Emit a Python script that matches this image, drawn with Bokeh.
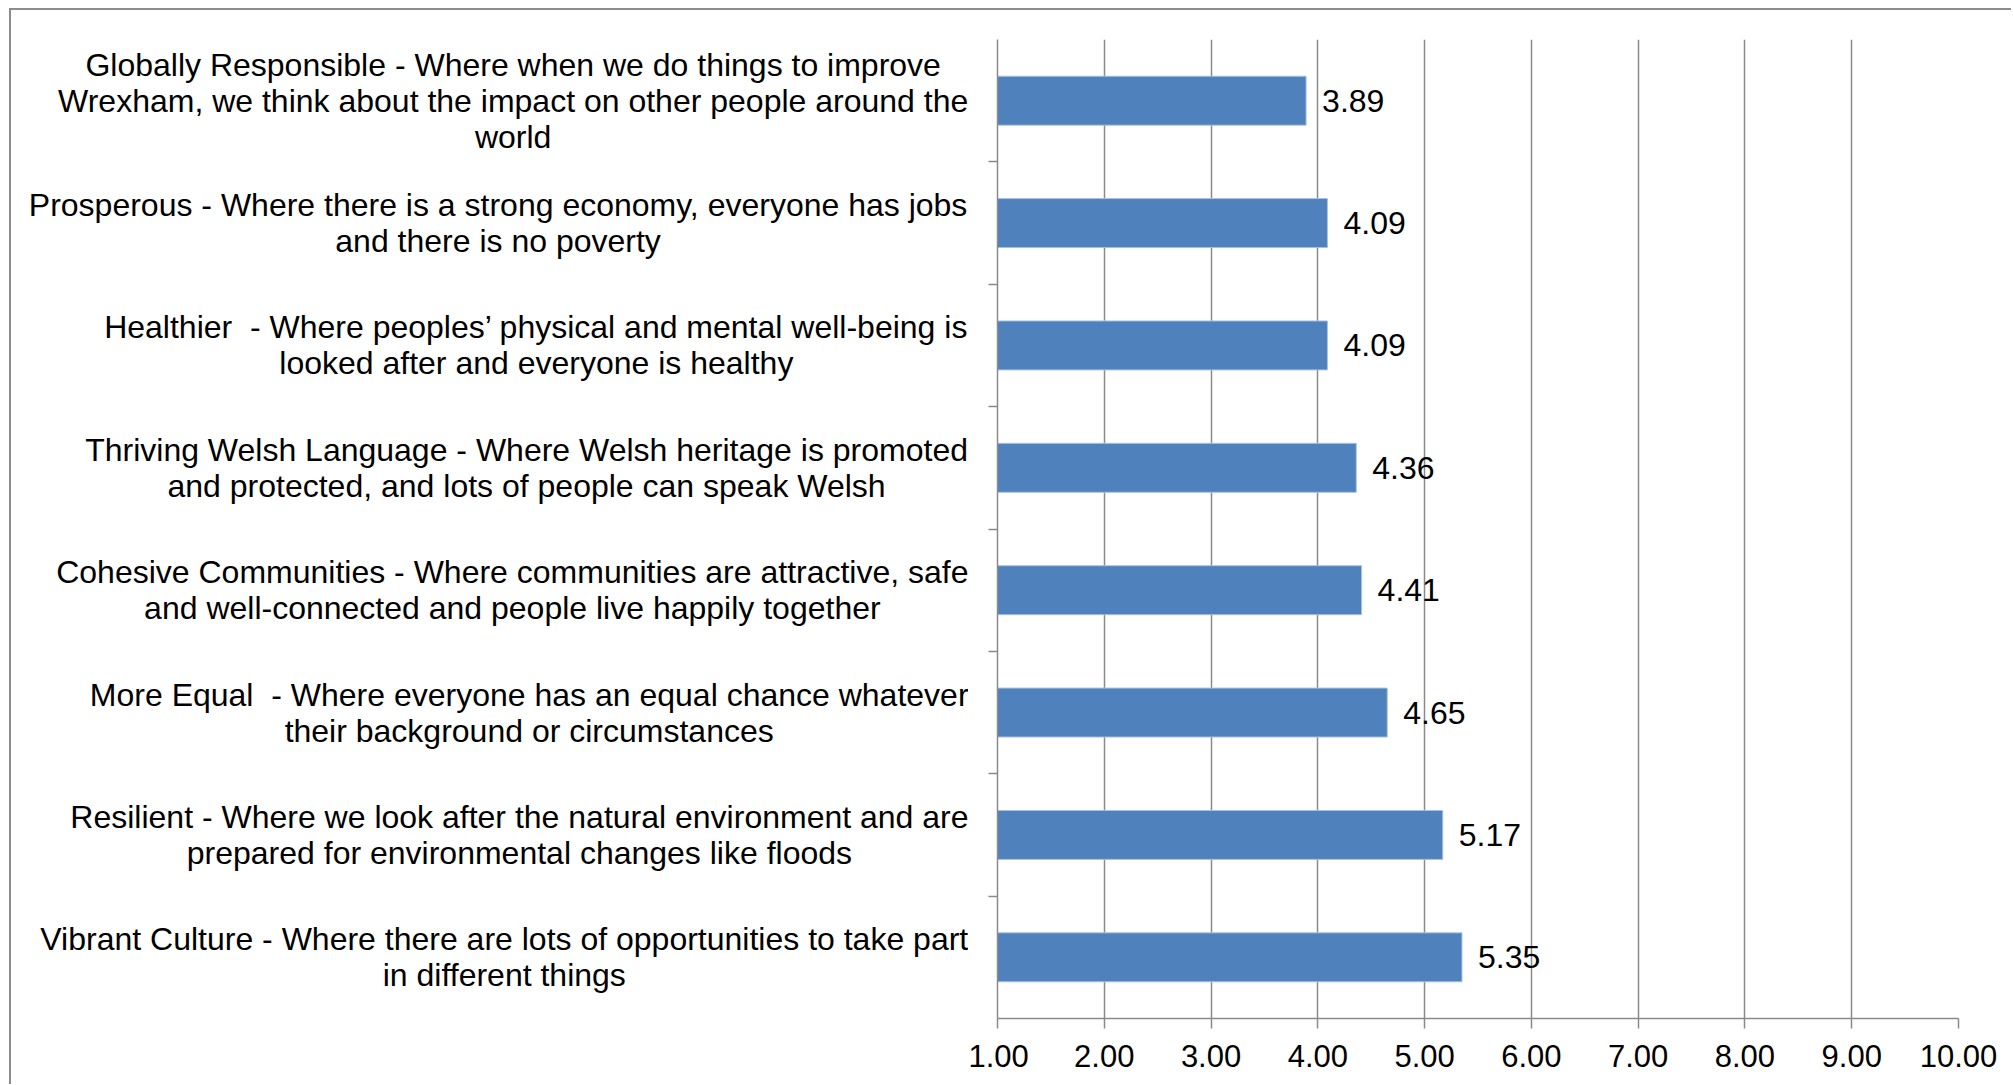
from bokeh.plotting import figure
from bokeh.layouts import row
from bokeh.models import (ColumnDataSource, FactorRange, Range1d,
                          CategoricalAxis, FixedTicker, CategoricalScale)
from bokeh.core.properties import value
from bokeh.embed import file_html
from bokeh.resources import INLINE

# ---- data (top to bottom as in the chart) ----
categories = [
    "Globally Responsible - Where when we do things to improve\nWrexham, we think about the impact on other people around the\nworld",
    "Prosperous - Where there is a strong economy, everyone has jobs\nand there is no poverty",
    "Healthier\u00a0 - Where peoples\u2019 physical and mental well-being is\nlooked after and everyone is healthy",
    "Thriving Welsh Language - Where Welsh heritage is promoted\nand protected, and lots of people can speak Welsh",
    "Cohesive Communities - Where communities are attractive, safe\nand well-connected and people live happily together",
    "More Equal\u00a0 - Where everyone has an equal chance whatever\ntheir background or circumstances",
    "Resilient - Where we look after the natural environment and are\nprepared for environmental changes like floods",
    "Vibrant Culture - Where there are lots of opportunities to take part\nin different things",
]
scores = [3.89, 4.09, 4.09, 4.36, 4.41, 4.65, 5.17, 5.35]
x_ticks = [1, 2, 3, 4, 5, 6, 7, 8, 9, 10]
x_tick_labels = ["1.00", "2.00", "3.00", "4.00", "5.00", "6.00", "7.00", "8.00", "9.00", "10.00"]
axis_start = 1.0

FONT = "Liberation Sans"
GRAY = "#8a8a8a"
BAR = "#4F81BD"
CAT_SIZE = 32
LABEL_W = 957      # width of the label panel (its right edge is where label lines end)
GAP = 29           # from label right edge to the value axis
TOTAL_W = 2000
HEIGHT = 1074
TOP = 29
BOTTOM = 66

# Helvetica/Arial advance widths (per 1000 em) used to centre the label blocks
_W = {" ": 278, "\u00a0": 278, ",": 278, "-": 333, ".": 278, "\u2019": 222,
      "A": 667, "B": 667, "C": 722, "D": 722, "E": 667, "F": 611, "G": 778, "H": 722,
      "I": 278, "J": 500, "K": 667, "L": 556, "M": 833, "N": 722, "O": 778, "P": 667,
      "Q": 778, "R": 722, "S": 667, "T": 611, "U": 722, "V": 667, "W": 944, "X": 667,
      "Y": 667, "Z": 611,
      "a": 556, "b": 556, "c": 500, "d": 556, "e": 556, "f": 278, "g": 556, "h": 556,
      "i": 222, "j": 222, "k": 500, "l": 222, "m": 833, "n": 556, "o": 556, "p": 556,
      "q": 556, "r": 333, "s": 500, "t": 278, "u": 556, "v": 500, "w": 722, "x": 500,
      "y": 500, "z": 500}


def text_width(s, size):
    return sum(_W.get(c, 556) for c in s) * size / 1000.0


source = ColumnDataSource(dict(
    cat=categories,
    score=scores,
    left=[axis_start] * len(scores),
    lab=["%.2f" % s for s in scores],
))

# centre of each label block: widest line ends at the panel's right edge
label_source = ColumnDataSource(dict(
    cat=categories,
    xc=[LABEL_W - max(text_width(l, CAT_SIZE) for l in c.split("\n")) / 2.0 for c in categories],
))

y_range = FactorRange(factors=list(reversed(categories)), range_padding=0)

# ---------------- label panel ----------------
lp = figure(
    width=LABEL_W, height=HEIGHT,
    y_range=y_range, x_range=Range1d(0, LABEL_W),
    x_axis_location=None, y_axis_location=None,
    output_backend="svg", toolbar_location=None,
    min_border_left=0, min_border_right=0, min_border_top=TOP, min_border_bottom=BOTTOM,
)
lp.outline_line_color = None
lp.xgrid.visible = False
lp.ygrid.visible = False
lp.text(x="xc", y="cat", text="cat", source=label_source,
        text_align="center", text_baseline="middle",
        text_font=value(FONT), text_font_size="%dpx" % CAT_SIZE,
        text_color="black", text_line_height=1.0)

# ---------------- bar chart ----------------
p = figure(
    width=TOTAL_W - LABEL_W, height=HEIGHT,
    y_range=y_range,
    x_range=Range1d(x_ticks[0], x_ticks[-1]),
    y_axis_location=None,
    output_backend="svg", toolbar_location=None,
    min_border_left=GAP, min_border_right=53, min_border_top=TOP, min_border_bottom=BOTTOM,
)
p.outline_line_color = None
p.background_fill_color = "white"
p.border_fill_color = "white"
p.ygrid.visible = False

# boundary ticks between categories: a factor range whose factor centres
# fall on the category boundaries (negative half-slot padding)
boundary_factors = ["b%d" % i for i in range(len(categories) + 1)]
p.extra_y_ranges = {"bounds": FactorRange(factors=boundary_factors,
                                          range_padding=-0.5,
                                          range_padding_units="absolute")}
p.extra_y_scales = {"bounds": CategoricalScale()}
tick_axis = CategoricalAxis(
    y_range_name="bounds",
    major_label_text_font_size="0px",
    major_label_text_alpha=0,
    major_label_standoff=0,
    major_tick_out=9, major_tick_in=0,
    axis_line_color=GRAY, axis_line_width=1.5,
    major_tick_line_color=GRAY, major_tick_line_width=1.5,
)
p.add_layout(tick_axis, "left")

# x axis
xa = p.xaxis[0]
xa.ticker = FixedTicker(ticks=x_ticks)
xa.major_label_overrides = {t: l for t, l in zip(x_ticks, x_tick_labels)}
xa.major_label_text_font = FONT
xa.major_label_text_font_size = "31px"
xa.major_label_text_color = "black"
xa.major_label_standoff = 16
xa.major_tick_out = 10
xa.major_tick_in = 0
xa.minor_tick_line_color = None
xa.axis_line_color = GRAY
xa.axis_line_width = 1.5
xa.major_tick_line_color = GRAY
xa.major_tick_line_width = 1.5

p.xgrid.grid_line_color = GRAY
p.xgrid.grid_line_width = 1.5
p.xgrid.ticker = FixedTicker(ticks=x_ticks)

p.hbar(y="cat", left="left", right="score", height=0.4, source=source,
       fill_color=BAR, line_color="#a9c1e0", line_width=1)

p.text(x="score", y="cat", text="lab", source=source,
       x_offset=16, text_baseline="middle", text_align="left",
       text_font=value(FONT), text_font_size="32px", text_color="black")

layout = row(lp, p)
layout.styles = {"margin-left": "9px", "margin-top": "8px",
                 "border-left": "2px solid #8c8c8c", "border-top": "2px solid #8c8c8c"}

open("out.html", "w").write(file_html(layout, INLINE))
